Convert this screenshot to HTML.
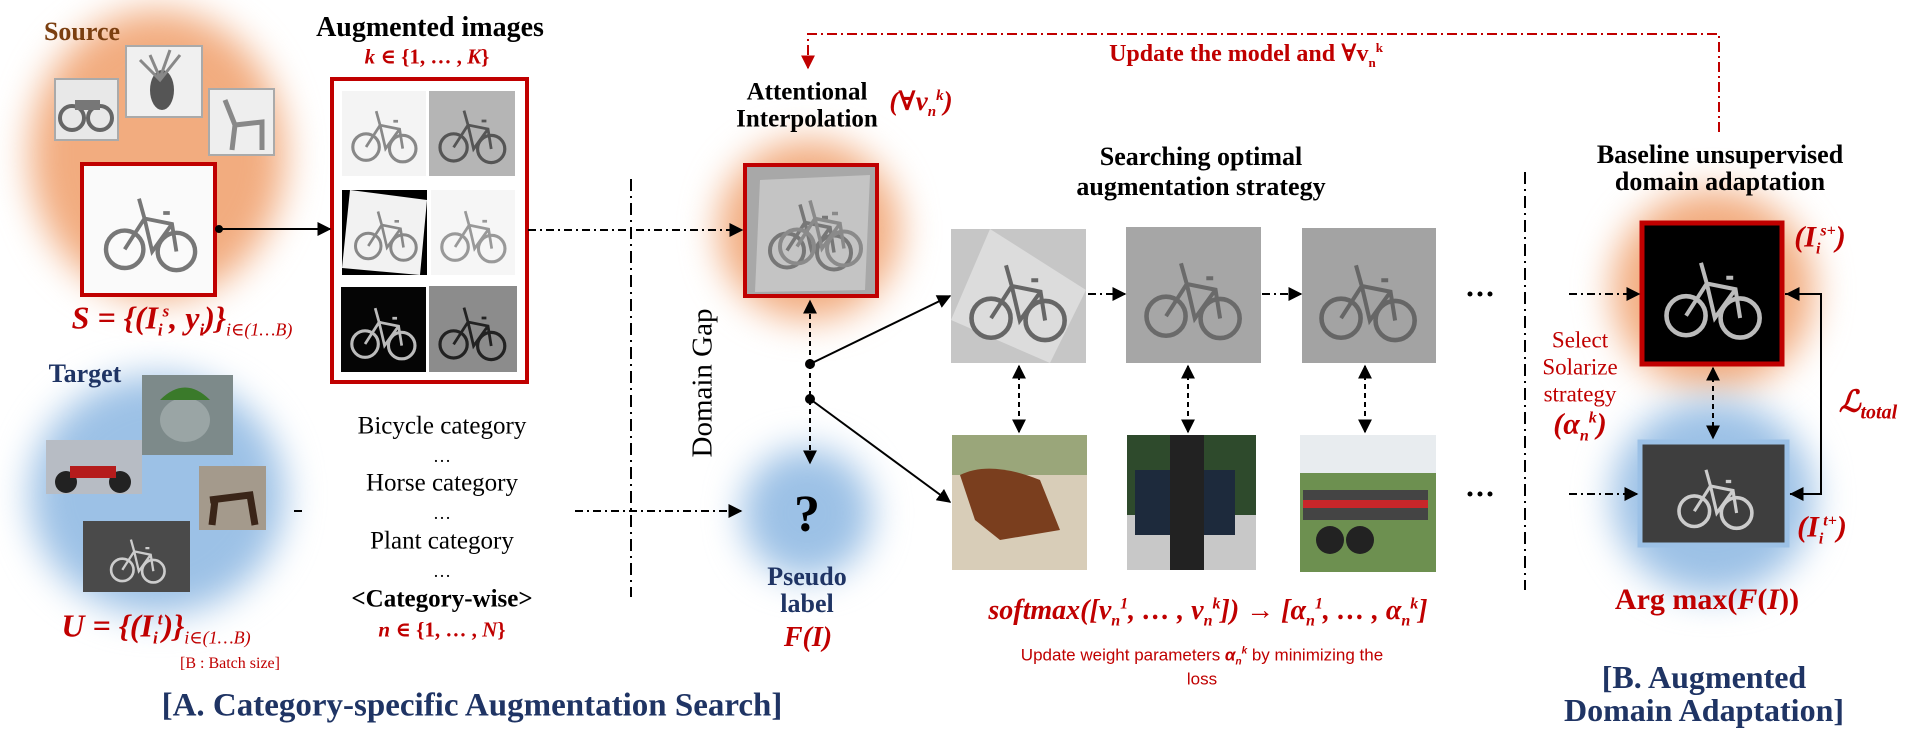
<!DOCTYPE html>
<html><head><meta charset="utf-8"><style>
html,body{margin:0;padding:0;background:#fff}
#c{position:relative;width:1920px;height:737px;overflow:hidden;background:#fff;font-family:"Liberation Serif","DejaVu Serif",serif}
.t{position:absolute;white-space:nowrap;transform:translate(-50%,-50%);line-height:1}
.b{font-weight:bold}
.red{color:#c00000}
.navy{color:#1f3464}
.blob{position:absolute;border-radius:50%;filter:blur(18px)}
</style></head><body><div id="c">

<!-- blobs -->
<div class="blob" style="left:30px;top:10px;width:255px;height:290px;background:#f2ac7f"></div>
<div class="blob" style="left:30px;top:375px;width:255px;height:240px;background:#9cc1e6"></div>
<div class="blob" style="left:718px;top:140px;width:182px;height:180px;background:#f2ac7f"></div>
<div class="blob" style="left:742px;top:448px;width:130px;height:130px;background:#9cc1e6"></div>
<div class="blob" style="left:1612px;top:190px;width:202px;height:200px;background:#f2ac7f"></div>
<div class="blob" style="left:1612px;top:400px;width:202px;height:195px;background:#9cc1e6"></div>

<svg width="1920" height="737" style="position:absolute;left:0;top:0">
<defs>
<symbol id="bike" viewBox="0 0 100 100">
<circle cx="27" cy="68" r="17" fill="none" stroke="currentColor" stroke-width="4"/>
<circle cx="74" cy="70" r="17" fill="none" stroke="currentColor" stroke-width="4"/>
<path d="M27 68 L45 40 L70 45 L74 70 M45 40 L52 70 L70 45 M40 22 L45 40 M62 35 L68 35" fill="none" stroke="currentColor" stroke-width="3.5"/>
</symbol>
<marker id="ah" viewBox="0 0 10 10" refX="9" refY="5" markerWidth="7" markerHeight="7" orient="auto-start-reverse"><path d="M0 0 L10 5 L0 10z" fill="#000"/></marker>
<marker id="ahr" viewBox="0 0 10 10" refX="9" refY="5" markerWidth="7" markerHeight="7" orient="auto"><path d="M0 0 L10 5 L0 10z" fill="#c00000"/></marker>
</defs>

<!-- source small images -->
<rect x="55" y="79" width="63" height="61" fill="#e8e8e8" stroke="#aaa" stroke-width="2"/>
<circle cx="72" cy="118" r="12" fill="none" stroke="#666" stroke-width="4"/><circle cx="100" cy="118" r="12" fill="none" stroke="#666" stroke-width="4"/><rect x="75" y="100" width="25" height="10" fill="#777"/>
<rect x="126" y="46" width="76" height="71" fill="#f0f0f0" stroke="#aaa" stroke-width="2"/>
<ellipse cx="162" cy="90" rx="12" ry="20" fill="#555"/><path d="M140 60 L160 80 L180 55 M150 55 L160 78 L170 50" stroke="#888" stroke-width="3" fill="none"/>
<rect x="209" y="89" width="65" height="66" fill="#eee" stroke="#aaa" stroke-width="2"/>
<path d="M225 100 L235 125 L262 122 L262 150 M235 125 L232 150" stroke="#888" stroke-width="5" fill="none"/>

<!-- source box -->
<rect x="82" y="164" width="133" height="131" fill="#fafafa" stroke="#c00000" stroke-width="4"/>
<use href="#bike" x="95" y="172" width="110" height="115" color="#777"/>

<!-- aug box -->
<rect x="332" y="79" width="195" height="303" fill="#fff" stroke="#c00000" stroke-width="4"/>
<rect x="342" y="91" width="84" height="85" fill="#f4f4f4"/><use href="#bike" x="345" y="93" width="78" height="80" color="#888"/>
<rect x="429" y="91" width="86" height="85" fill="#b5b5b5"/><use href="#bike" x="432" y="93" width="80" height="80" color="#555"/>
<rect x="342" y="190" width="85" height="85" fill="#000"/><polygon points="350,190 427,200 420,275 342,268" fill="#f2f2f2"/><use href="#bike" x="348" y="195" width="75" height="75" color="#888"/>
<rect x="431" y="190" width="84" height="85" fill="#f6f6f6"/><use href="#bike" x="434" y="193" width="78" height="80" color="#999"/>
<rect x="341" y="287" width="85" height="85" fill="#050505"/><use href="#bike" x="344" y="290" width="78" height="80" color="#bbb"/>
<rect x="429" y="286" width="88" height="86" fill="#8c8c8c"/><use href="#bike" x="432" y="290" width="80" height="80" color="#222"/>

<!-- target images -->
<rect x="142" y="375" width="91" height="80" fill="#7d8a8a"/><ellipse cx="185" cy="420" rx="25" ry="22" fill="#9aa5a5"/><path d="M160 400 Q185 375 210 400" fill="#3a7a2a"/>
<rect x="46" y="440" width="96" height="54" fill="#b7bcc4"/><circle cx="66" cy="482" r="11" fill="#222"/><circle cx="120" cy="482" r="11" fill="#222"/><rect x="70" y="466" width="46" height="12" fill="#b51c1c"/>
<rect x="199" y="466" width="67" height="64" fill="#a49a8c"/><path d="M210 500 L250 495 L255 525 M215 500 L212 525" stroke="#3a2518" stroke-width="7" fill="none"/>
<rect x="83" y="521" width="107" height="71" fill="#4a4a4a"/><use href="#bike" x="95" y="525" width="85" height="66" color="#ccc"/>

<!-- attentional box -->
<rect x="745" y="165" width="132" height="131" fill="#a8a8a8" stroke="#c00000" stroke-width="4"/>
<polygon points="760,180 870,175 865,290 755,292" fill="#c4c4c4"/>
<use href="#bike" x="760" y="180" width="100" height="105" color="#777"/>
<use href="#bike" x="770" y="176" width="100" height="105" color="#8a8a8a"/>

<!-- search images -->
<rect x="951" y="229" width="135" height="134" fill="#c6c6c6"/><polygon points="990,229 1086,290 1050,363 951,320" fill="#dcdcdc"/><use href="#bike" x="960" y="240" width="115" height="115" color="#666"/>
<rect x="1126" y="227" width="135" height="136" fill="#a6a6a6"/><use href="#bike" x="1135" y="238" width="115" height="115" color="#6a6a6a"/>
<rect x="1302" y="228" width="134" height="135" fill="#a3a3a3"/><use href="#bike" x="1310" y="240" width="115" height="115" color="#666"/>

<rect x="952" y="435" width="135" height="135" fill="#d8cdb8"/><rect x="952" y="435" width="135" height="40" fill="#9aa67a"/><path d="M960 475 Q990 460 1040 480 L1060 530 L1000 540 L975 520 Z" fill="#7a3e1e"/>
<rect x="1127" y="435" width="129" height="135" fill="#2e4a2c"/><rect x="1127" y="515" width="129" height="55" fill="#c8c8c8"/><rect x="1135" y="470" width="100" height="65" fill="#1d2a3c"/><rect x="1170" y="435" width="34" height="135" fill="#222"/>
<rect x="1300" y="435" width="136" height="137" fill="#6d9050"/><rect x="1300" y="435" width="136" height="38" fill="#e8ecef"/><rect x="1303" y="490" width="125" height="30" fill="#444"/><rect x="1303" y="500" width="125" height="8" fill="#c8262a"/><circle cx="1330" cy="540" r="14" fill="#222"/><circle cx="1360" cy="540" r="14" fill="#222"/>

<!-- right boxes -->
<rect x="1642" y="223" width="140" height="141" fill="#000" stroke="#c00000" stroke-width="5"/>
<use href="#bike" x="1655" y="235" width="115" height="120" color="#bbb"/>
<rect x="1640" y="442" width="147" height="103" fill="#3e3e3e" stroke="#9cc1e6" stroke-width="5"/>
<use href="#bike" x="1665" y="450" width="100" height="90" color="#ccc"/>

<!-- connectors -->
<g stroke="#000" stroke-width="2" fill="none">
<circle cx="219" cy="229" r="3" fill="#000"/>
<line x1="219" y1="229" x2="330" y2="229" marker-end="url(#ah)"/>
<line x1="528" y1="230" x2="742" y2="230" stroke-dasharray="8,4,2,4" marker-end="url(#ah)"/>
<line x1="294" y1="511" x2="306" y2="511" stroke-dasharray="8,4,2,4"/>
<line x1="575" y1="511" x2="741" y2="511" stroke-dasharray="8,4,2,4" marker-end="url(#ah)"/>
<line x1="631" y1="179" x2="631" y2="597" stroke-dasharray="12,5,2,5"/>
<line x1="1525" y1="172" x2="1525" y2="590" stroke-dasharray="12,5,2,5"/>
<line x1="810" y1="364" x2="810" y2="301" stroke-dasharray="5,4" marker-end="url(#ah)"/>
<line x1="810" y1="364" x2="810" y2="463" stroke-dasharray="5,4" marker-end="url(#ah)"/>
<circle cx="810" cy="364" r="4" fill="#000"/><circle cx="810" cy="399" r="4" fill="#000"/>
<line x1="810" y1="364" x2="950" y2="296" marker-end="url(#ah)"/>
<line x1="810" y1="399" x2="950" y2="502" marker-end="url(#ah)"/>
<line x1="1088" y1="294" x2="1125" y2="294" stroke-dasharray="8,4,2,4" marker-end="url(#ah)"/>
<line x1="1262" y1="294" x2="1301" y2="294" stroke-dasharray="8,4,2,4" marker-end="url(#ah)"/>
<line x1="1019" y1="366" x2="1019" y2="432" stroke-dasharray="5,4" marker-start="url(#ah)" marker-end="url(#ah)"/>
<line x1="1188" y1="366" x2="1188" y2="432" stroke-dasharray="5,4" marker-start="url(#ah)" marker-end="url(#ah)"/>
<line x1="1365" y1="366" x2="1365" y2="432" stroke-dasharray="5,4" marker-start="url(#ah)" marker-end="url(#ah)"/>
<line x1="1569" y1="294" x2="1639" y2="294" stroke-dasharray="8,4,2,4" marker-end="url(#ah)"/>
<line x1="1569" y1="494" x2="1637" y2="494" stroke-dasharray="8,4,2,4" marker-end="url(#ah)"/>
<line x1="1713" y1="368" x2="1713" y2="438" stroke-dasharray="5,4" marker-start="url(#ah)" marker-end="url(#ah)"/>
<polyline points="1785,294 1821,294 1821,494 1790,494"/>
<line x1="1800" y1="294" x2="1787" y2="294" marker-end="url(#ah)"/>
<line x1="1805" y1="494" x2="1791" y2="494" marker-end="url(#ah)"/>
</g>
<polyline points="1719,132 1719,34 808,34 808,68" fill="none" stroke="#c00000" stroke-width="2" stroke-dasharray="10,4,2,4" marker-end="url(#ahr)"/>
<g fill="#000"><circle cx="1470" cy="294" r="2.5"/><circle cx="1480" cy="294" r="2.5"/><circle cx="1490" cy="294" r="2.5"/>
<circle cx="1470" cy="494" r="2.5"/><circle cx="1480" cy="494" r="2.5"/><circle cx="1490" cy="494" r="2.5"/></g>
</svg>

<!-- texts -->
<div class="t b" style="left:82px;top:32px;font-size:26px;color:#7b3f10">Source</div>
<div class="t b" style="left:430px;top:28px;font-size:28px">Augmented images</div>
<div class="t b red" style="left:427px;top:57px;font-size:21px"><i>k</i> ∈ {1, … , <i>K</i>}</div>
<div class="t b red" style="left:182px;top:320px;font-size:32px;font-style:italic">S = {(I<sub style="font-size:17px">i</sub><sup style="font-size:17px">s</sup>, y<sub style="font-size:17px">i</sub>)}<sub style="font-size:18px;font-weight:normal">i∈(1…B)</sub></div>
<div class="t b navy" style="left:85px;top:374px;font-size:26px">Target</div>
<div class="t b red" style="left:156px;top:628px;font-size:32px;font-style:italic">U = {(I<sub style="font-size:17px">i</sub><sup style="font-size:17px">t</sup>)}<sub style="font-size:18px;font-weight:normal">i∈(1…B)</sub></div>
<div class="t red" style="left:230px;top:664px;font-size:16px">[B : Batch size]</div>
<div class="t" style="left:442px;top:426px;font-size:25px">Bicycle category</div>
<div class="t" style="left:442px;top:456px;font-size:18px">…</div>
<div class="t" style="left:442px;top:483px;font-size:25px">Horse category</div>
<div class="t" style="left:442px;top:513px;font-size:18px">…</div>
<div class="t" style="left:442px;top:541px;font-size:25px">Plant category</div>
<div class="t" style="left:442px;top:571px;font-size:18px">…</div>
<div class="t b" style="left:442px;top:599px;font-size:25px">&lt;Category-wise&gt;</div>
<div class="t b red" style="left:442px;top:630px;font-size:21px"><i>n</i> ∈ {1, … , <i>N</i>}</div>
<div class="t" style="left:703px;top:383px;font-size:29px;transform:translate(-50%,-50%) rotate(-90deg)">Domain Gap</div>
<div class="t b" style="left:807px;top:92px;font-size:25px">Attentional</div>
<div class="t b" style="left:807px;top:119px;font-size:25px">Interpolation</div>
<div class="t b red" style="left:921px;top:104px;font-size:27px;font-style:italic">(∀v<sub style="font-size:15px">n</sub><sup style="font-size:15px">k</sup>)</div>
<div class="t b red" style="left:1246px;top:55px;font-size:24px">Update the model and ∀v<sub style="font-size:13px">n</sub><sup style="font-size:13px">k</sup></div>
<div class="t" style="left:807px;top:515px;font-size:52px;font-weight:bold">?</div>
<div class="t b navy" style="left:807px;top:577px;font-size:26px">Pseudo</div>
<div class="t b navy" style="left:807px;top:604px;font-size:26px">label</div>
<div class="t b red" style="left:808px;top:638px;font-size:28px;font-style:italic">F(I)</div>
<div class="t b" style="left:1201px;top:157px;font-size:26px">Searching optimal</div>
<div class="t b" style="left:1201px;top:187px;font-size:26px">augmentation strategy</div>
<div class="t b red" style="left:1208px;top:613px;font-size:28px;font-style:italic">softmax([v<sub style="font-size:16px">n</sub><sup style="font-size:16px">1</sup>, … , v<sub style="font-size:16px">n</sub><sup style="font-size:16px">k</sup>]) → [α<sub style="font-size:16px">n</sub><sup style="font-size:16px">1</sup>, … , α<sub style="font-size:16px">n</sub><sup style="font-size:16px">k</sup>]</div>
<div class="t red" style="left:1202px;top:657px;font-size:17px;font-family:'Liberation Sans',sans-serif">Update weight parameters <b><i>α<sub style="font-size:10px">n</sub><sup style="font-size:10px">k</sup></i></b> by minimizing the</div>
<div class="t red" style="left:1202px;top:679px;font-size:17px;font-family:'Liberation Sans',sans-serif">loss</div>
<div class="t b" style="left:1720px;top:155px;font-size:26px">Baseline unsupervised</div>
<div class="t b" style="left:1720px;top:182px;font-size:26px">domain adaptation</div>
<div class="t red" style="left:1580px;top:340px;font-size:23px">Select</div>
<div class="t red" style="left:1580px;top:367px;font-size:23px">Solarize</div>
<div class="t red" style="left:1580px;top:394px;font-size:23px">strategy</div>
<div class="t b red" style="left:1580px;top:427px;font-size:30px;font-style:italic">(α<sub style="font-size:16px">n</sub><sup style="font-size:16px">k</sup>)</div>
<div class="t b red" style="left:1820px;top:240px;font-size:30px;font-style:italic">(I<sub style="font-size:16px">i</sub><sup style="font-size:16px">s+</sup>)</div>
<div class="t b red" style="left:1822px;top:530px;font-size:30px;font-style:italic">(I<sub style="font-size:16px">i</sub><sup style="font-size:16px">t+</sup>)</div>
<div class="t b red" style="left:1868px;top:405px;font-size:30px;font-style:italic">ℒ<sub style="font-size:20px">total</sub></div>
<div class="t b red" style="left:1707px;top:600px;font-size:30px">Arg max(<i>F</i>(<i>I</i>))</div>
<div class="t b navy" style="left:472px;top:706px;font-size:33px">[A. Category-specific Augmentation Search]</div>
<div class="t b navy" style="left:1704px;top:677px;font-size:32px">[B. Augmented</div>
<div class="t b navy" style="left:1704px;top:710px;font-size:32px">Domain Adaptation]</div>
</div></body></html>
